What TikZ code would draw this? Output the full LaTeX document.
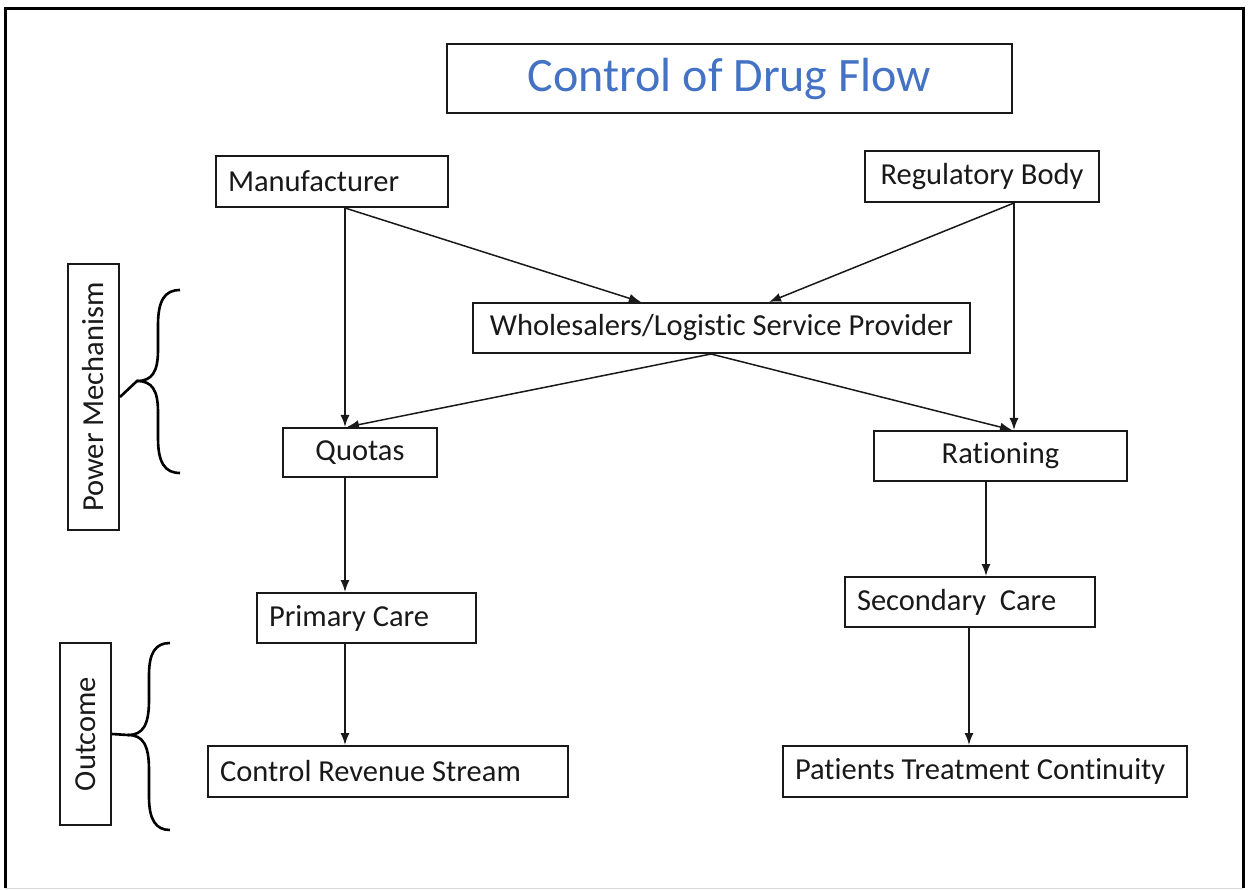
\documentclass[tikz,border=0pt]{standalone}
\usepackage{fontspec}
\setmainfont{Carlito}[Ligatures={NoCommon}]
\usetikzlibrary{arrows.meta}
\definecolor{titleblue}{RGB}{68,114,196}
\definecolor{ink}{RGB}{25,25,25}
\begin{document}
\begin{tikzpicture}[x=1pt,y=-1pt,
  box/.style={draw=ink, line width=2pt, inner ysep=0pt, inner xsep=12pt,
    font=\fontsize{30.5}{36}\selectfont, text=ink, anchor=north west},
  lbox/.style={box, align=flush left},
  cbox/.style={box, align=flush center},
  sidebox/.style={draw=ink, line width=2pt, inner sep=0pt, rotate=90,
    font=\fontsize{30.5}{36}\selectfont, text=ink},
  arr/.style={draw=ink, line width=1.5pt, -{Latex[length=12pt,width=9pt]}},
  brace/.style={draw=black, line width=2.6pt}
]
\useasboundingbox (0,0) rectangle (1248,890);
% frame
\draw[line width=3pt, black] (5,888) -- (5,9) -- (1243,9) -- (1243,888);
\draw[line width=1pt, black!15] (5,888) -- (1243,888);

% title
\node[draw=ink, line width=2pt, minimum width=565pt, minimum height=69pt,
  font=\fontsize{48}{54}\selectfont, text=titleblue] (title) at (729.5,78.5) {Control of Drug Flow};

% boxes (north west corner, text width = width - 24, height)
\node[lbox, text width=208pt, minimum height=51pt] (man) at (215,155) {Manufacturer};
\node[cbox, text width=210pt, minimum height=51pt] (reg) at (864,150) {Regulatory Body};
\node[cbox, text width=473pt, minimum height=50pt] (wh) at (472,302) {Wholesalers/Logistic Service Provider};
\node[cbox, text width=130pt, minimum height=49pt] (qu) at (282,427) {Quotas};
\node[cbox, text width=229pt, minimum height=50pt] (ra) at (873,430) {Rationing};
\node[lbox, text width=195pt, minimum height=50pt] (pc) at (256,592) {Primary Care};
\node[lbox, text width=226pt, minimum height=50pt] (sc) at (844,576) {Secondary\hspace{0.45em}Care};
\node[lbox, text width=336pt, minimum height=51pt] (crs) at (207,745) {Control Revenue Stream};
\node[lbox, text width=380pt, minimum height=51pt] (ptc) at (782,745) {Patients Treatment Continuity};

% side labels
\node[sidebox, minimum width=266pt, minimum height=51pt] (pm) at (93.5,397) {Power Mechanism};
\node[sidebox, minimum width=182pt, minimum height=51pt] (oc) at (85.5,734) {Outcome};

% braces
\draw[brace] (pm.south) -- (137,381)
  .. controls (152,381) and (158,372) .. (158,350)
  -- (158,325)
  .. controls (158,300) and (165,290) .. (180,290);
\draw[brace] (137,381)
  .. controls (152,381) and (158,390) .. (158,412)
  -- (158,438)
  .. controls (158,463) and (165,473) .. (180,473);
\draw[brace] (oc.south) -- (128,735)
  .. controls (143,735) and (149,725) .. (149,700)
  -- (149,675)
  .. controls (149,652) and (156,643) .. (170,643);
\draw[brace] (128,735)
  .. controls (143,735) and (149,745) .. (149,770)
  -- (149,797)
  .. controls (149,820) and (156,830) .. (170,830);

% connectors
\draw[arr] ([xshift=13pt]man.south) -- ([xshift=-15pt]qu.north);
\draw[arr] ([xshift=13pt]man.south) -- ([xshift=-80.5pt]wh.north);
\draw[arr] ([xshift=32pt]reg.south) -- ([xshift=47.5pt]wh.north);
\draw[arr] ([xshift=32pt]reg.south) -- ([xshift=13.5pt]ra.north);
\draw[arr] ([xshift=-10.5pt]wh.south) -- ([xshift=-13pt]qu.north);
\draw[arr] ([xshift=-10.5pt]wh.south) -- ([xshift=11.5pt]ra.north);
\draw[arr] ([xshift=-15pt]qu.south) -- ([xshift=-21.5pt]pc.north);
\draw[arr] ([xshift=-14.5pt]ra.south) -- ([xshift=16pt]sc.north);
\draw[arr] ([xshift=-21.5pt]pc.south) -- ([xshift=-43pt]crs.north);
\draw[arr] ([xshift=-1pt]sc.south) -- ([xshift=-16pt]ptc.north);
\end{tikzpicture}
\end{document}
